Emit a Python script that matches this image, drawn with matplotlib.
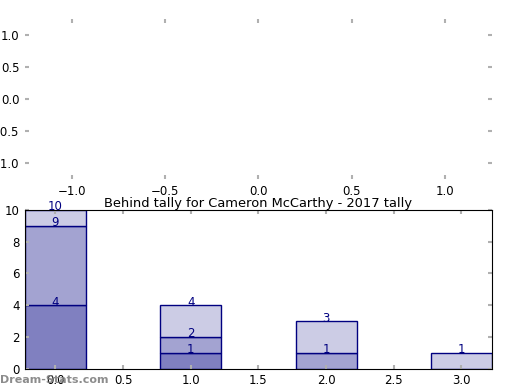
import matplotlib
matplotlib.use('Agg')
import matplotlib.pyplot as plt
import numpy as np

positions = [0, 1, 2, 3]
layer_low = [4, 1, 0, 0]
layer_mid = [5, 1, 1, 0]
layer_top = [1, 2, 2, 1]
layer_colors = ['#8080c0', '#a3a3d1', '#cccce5']
title = 'Behind tally for Cameron McCarthy - 2017 tally'

plt.rcParams['font.size'] = 8.5
plt.rcParams['xtick.direction'] = 'in'
plt.rcParams['ytick.direction'] = 'in'

fig = plt.figure(figsize=(5.2, 3.9), dpi=100)

# empty top panel
ax0 = fig.add_axes([0.048, 0.541, 0.898, 0.410])
ax0.set_xlim(-1.25, 1.25)
ax0.set_ylim(-1.25, 1.25)
ax0.set_xticks([-1.0, -0.5, 0.0, 0.5, 1.0])
ax0.set_yticks([-1.0, -0.5, 0.0, 0.5, 1.0])
for s in ax0.spines.values():
    s.set_visible(False)

ax = fig.add_axes([0.048, 0.054, 0.898, 0.408])
bottom = np.zeros(len(positions))
for vals, col in zip([layer_low, layer_mid, layer_top], layer_colors):
    vals = np.array(vals, dtype=float)
    ax.bar(positions, vals, width=0.45, bottom=bottom, color=col,
           edgecolor='#000080', linewidth=1)
    bottom = bottom + vals
    for x, v, b in zip(positions, vals, bottom):
        if v > 0:
            ax.text(x, b + 0.2, f'{int(b)}', ha='center', va='center',
                    color='#000080', fontsize=8.5)

ax.set_xlim(-0.225, 3.225)
ax.set_ylim(0, 10)
ax.set_xticks([0.0, 0.5, 1.0, 1.5, 2.0, 2.5, 3.0])
ax.set_yticks([0, 2, 4, 6, 8, 10])
ax.set_title(title, fontsize=9.4, pad=2)

for a in (ax0, ax):
    a.tick_params(top=True, right=True, color='#b0b0b0', length=3, width=1.5,
                  labelcolor='black', pad=4)

fig.text(0.0, 0.018, 'Dream-Stats.com', color='#808080', fontsize=8,
         fontweight='bold', alpha=0.9)

fig.savefig('out.png', dpi=100)
